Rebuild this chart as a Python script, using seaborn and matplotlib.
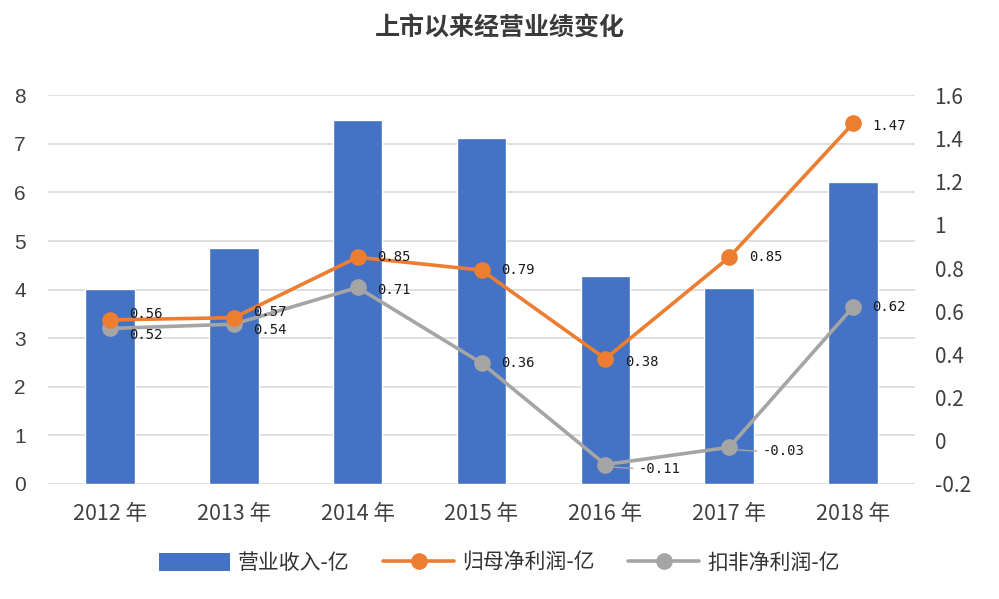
import matplotlib
matplotlib.use("Agg")
import matplotlib.pyplot as plt
import seaborn as sns
import pandas as pd
from matplotlib.patches import Patch
from matplotlib.lines import Line2D

years = ["2012 年", "2013 年", "2014 年", "2015 年", "2016 年", "2017 年", "2018 年"]
revenue = [4.02, 4.85, 7.50, 7.12, 4.28, 4.03, 6.22]
net_profit = [0.56, 0.57, 0.85, 0.79, 0.38, 0.85, 1.47]
deducted_profit = [0.52, 0.54, 0.71, 0.36, -0.11, -0.03, 0.62]
left_ticks = [0, 1, 2, 3, 4, 5, 6, 7, 8]
right_ticks = [-0.2, 0, 0.2, 0.4, 0.6, 0.8, 1.0, 1.2, 1.4, 1.6]
right_tick_labels = ["-0.2", "0", "0.2", "0.4", "0.6", "0.8", "1", "1.2", "1.4", "1.6"]

title = "上市以来经营业绩变化"
name_rev = "营业收入-亿"
name_np = "归母净利润-亿"
name_dp = "扣非净利润-亿"

C_BAR = "#4472C4"
C_NP = "#ED7D31"
C_DP = "#A5A5A5"

sns.set_theme(style="white")
plt.rcParams["font.family"] = ["Noto Sans CJK SC", "DejaVu Sans"]

df = pd.DataFrame({"year": years, "rev": revenue, "np": net_profit, "dp": deducted_profit})

fig = plt.figure(figsize=(9.99, 5.99), dpi=100)
ax = fig.add_axes([0.048, 0.192, 0.868, 0.649])

sns.barplot(data=df, x="year", y="rev", color=C_BAR, width=0.4, saturation=1, ax=ax, zorder=2)
ax.set_ylim(0, 8)
ax.set_xlim(-0.5, 6.5)
ax.set_yticks(left_ticks)
ax.set_yticklabels([str(t) for t in left_ticks], fontsize=15, color="#404040",
                   family=["Liberation Sans", "DejaVu Sans"])
ax.yaxis.grid(True, color="#D9D9D9", linewidth=1.2, zorder=0)
ax.set_axisbelow(True)
for s in ax.spines.values():
    s.set_visible(False)
ax.set_xlabel("")
ax.set_ylabel("")
ax.tick_params(axis="both", length=0)
ax.tick_params(axis="y", pad=16)
ax.tick_params(axis="x", pad=14)
for lab in ax.get_xticklabels():
    lab.set_fontsize(15.5)
    lab.set_color("#404040")

ax2 = ax.twinx()
x_pos = list(range(len(years)))
sns.lineplot(x=x_pos, y=net_profit, color=C_NP, linewidth=2.6, marker="o",
             markersize=12, markeredgewidth=0, ax=ax2, zorder=4)
sns.lineplot(x=x_pos, y=deducted_profit, color=C_DP, linewidth=2.6, marker="o",
             markersize=12, markeredgewidth=0, ax=ax2, zorder=3)
ax2.set_ylim(-0.2, 1.6)
ax2.set_yticks(right_ticks)
ax2.set_yticklabels(right_tick_labels, fontsize=15, color="#404040")
ax2.tick_params(axis="y", length=0, pad=14)
for s in ax2.spines.values():
    s.set_visible(False)
ax2.grid(False)
ax2.set_ylabel("")

lab_font = dict(fontsize=10, color="#1a1a1a", family=["DejaVu Sans Mono"], va="center", ha="left")
np_offsets = [(14, 4), (14, 4), (14, 0), (14, 0), (14, -2), (14, 0), (14, -2)]
dp_offsets = [(14, -5), (14, -4), (14, -2), (14, 0), None, None, (14, 0)]
for i, v in enumerate(net_profit):
    dx, dy = np_offsets[i]
    ax2.annotate(f"{v:.2f}", (i, v), xytext=(dx, dy), textcoords="offset points", zorder=6, **lab_font)
for i, v in enumerate(deducted_profit):
    if dp_offsets[i] is None:
        ax2.annotate(f"{v:.2f}", (i, v), xytext=(24, -3), textcoords="offset points", zorder=6,
                     arrowprops=dict(arrowstyle="-", color="#A5A5A5", lw=1,
                                     connectionstyle="angle3,angleA=0,angleB=-60",
                                     shrinkA=2, shrinkB=6), **lab_font)
    else:
        dx, dy = dp_offsets[i]
        ax2.annotate(f"{v:.2f}", (i, v), xytext=(dx, dy), textcoords="offset points", zorder=6, **lab_font)

fig.text(0.5, 0.953, title, ha="center", va="center", fontsize=18, fontweight="bold", color="#3a3a3a")

handles = [
    Patch(facecolor=C_BAR, edgecolor="none"),
    Line2D([0], [0], color=C_NP, lw=2.6, marker="o", markersize=12, markeredgewidth=0),
    Line2D([0], [0], color=C_DP, lw=2.6, marker="o", markersize=12, markeredgewidth=0),
]
fig.legend(handles, [name_rev, name_np, name_dp], loc="center", bbox_to_anchor=(0.5, 0.06),
           ncol=3, frameon=False, fontsize=15, handlelength=3.4, handleheight=1.0,
           columnspacing=1.6, handletextpad=0.4, labelcolor="#333333")

fig.savefig("out.png", dpi=100)
